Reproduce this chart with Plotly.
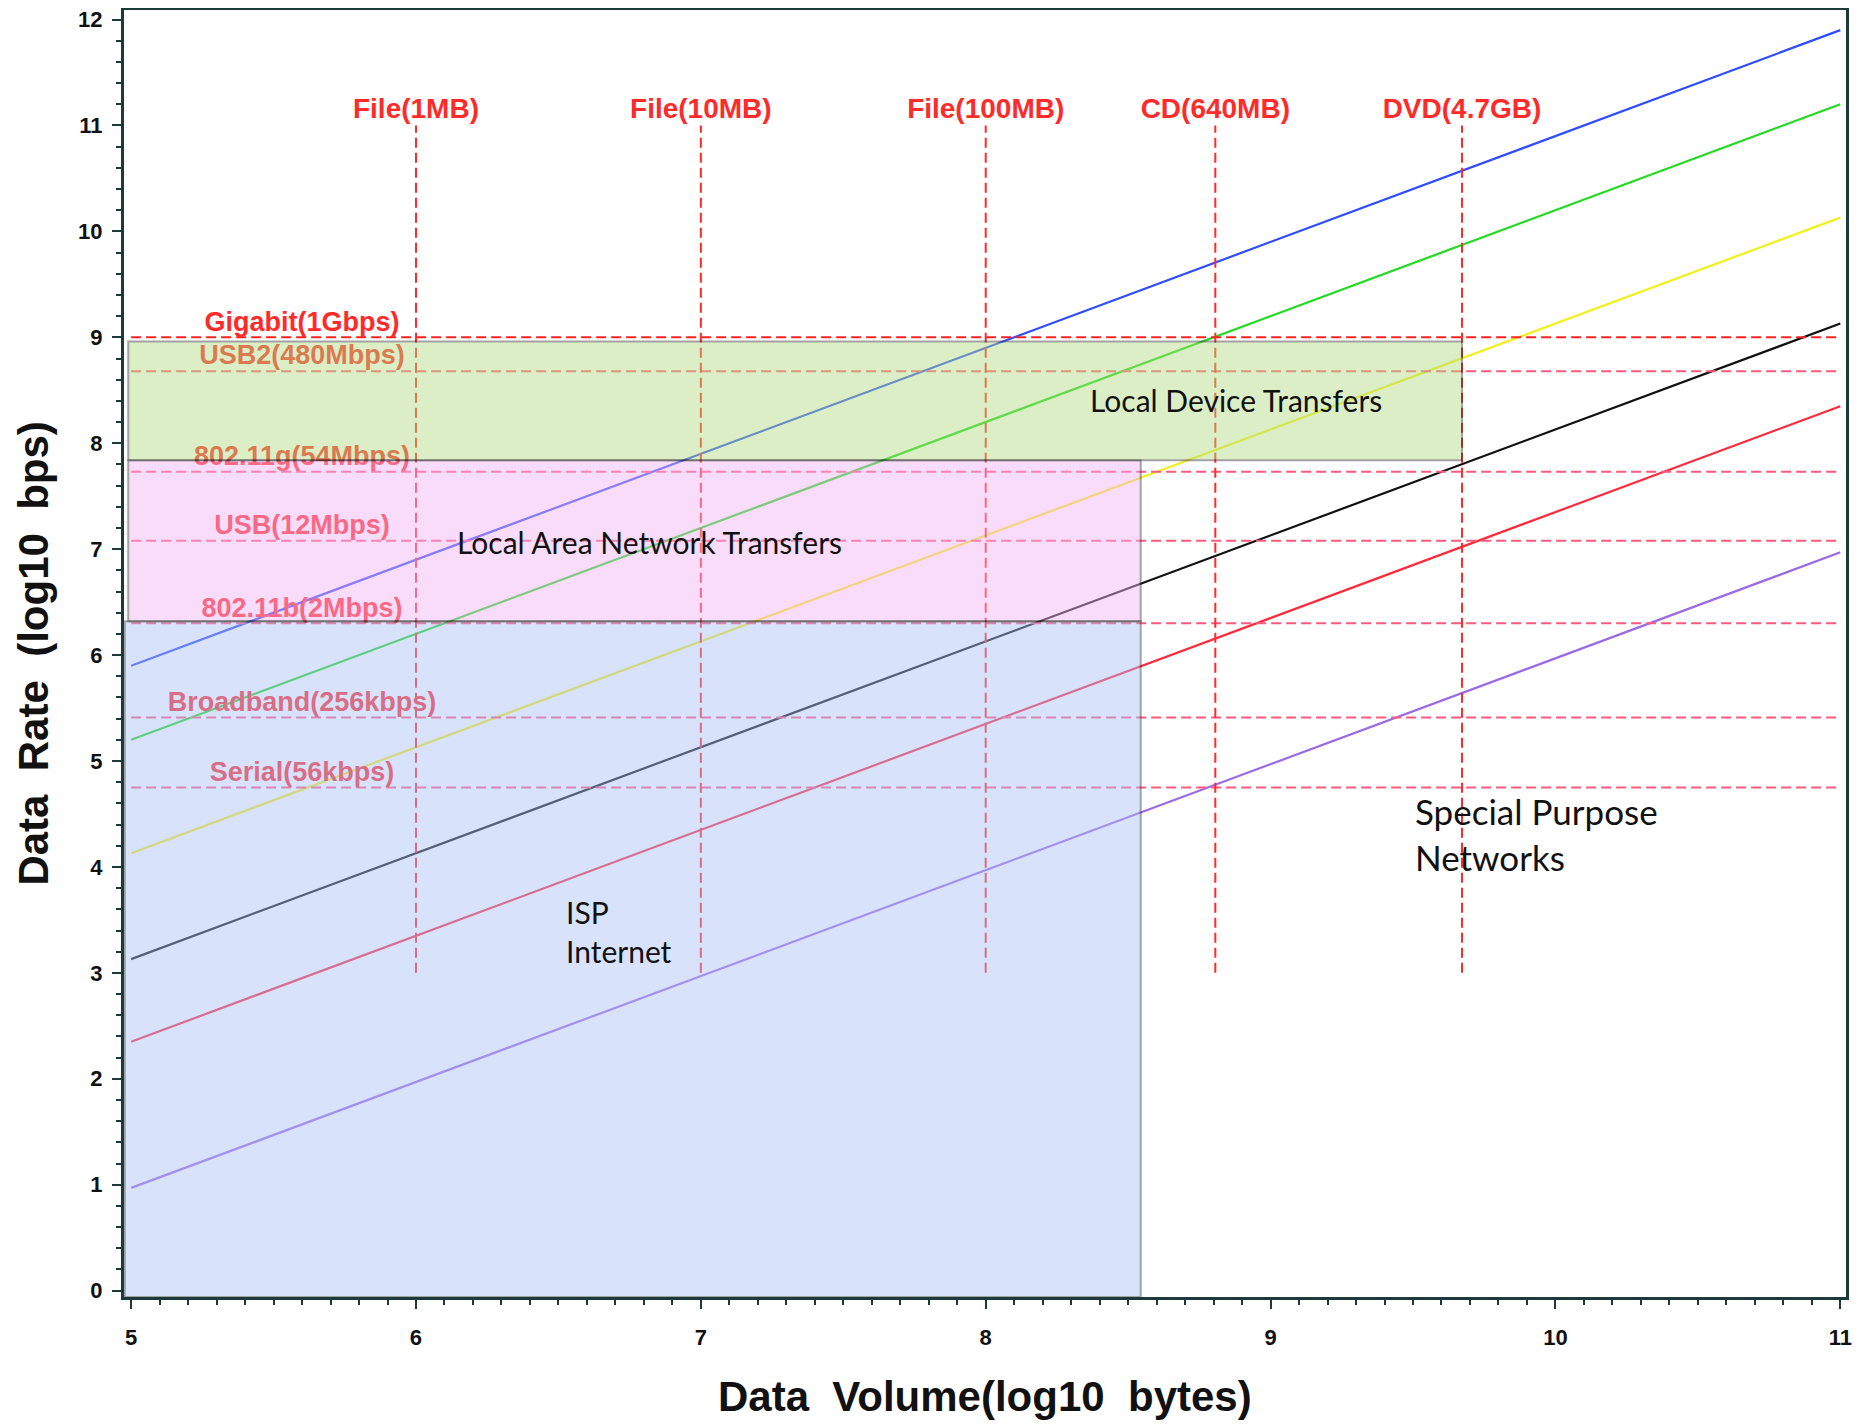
import plotly.graph_objects as go

# ---------------- data ----------------
# transfer-time lines (log10 bps at x = 5 and x = 11)
line_x = [5, 11]
line_names = ["1 s", "5 s", "1 min", "10 min", "1 hour", "1 day"]
line_y_start = [5.90, 5.20, 4.13, 3.13, 2.35, 0.97]
line_y_end = [11.90, 11.20, 10.13, 9.13, 8.35, 6.97]
line_colors = ["#2f4dff", "#1fdc1f", "#f2f01e", "#111111", "#ff2a3c", "#9a6ae6"]

# horizontal rate reference lines (log10 bps)
rate_labels = ["Gigabit(1Gbps)", "USB2(480Mbps)", "802.11g(54Mbps)", "USB(12Mbps)",
               "802.11b(2Mbps)", "Broadband(256kbps)", "Serial(56kbps)"]
rate_values = [9.00, 8.68, 7.73, 7.08, 6.30, 5.41, 4.75]
rate_colors = ["#ff2020", "#ff5a7e", "#ff5a7e", "#ff5a7e", "#ff5a7e", "#ff5a7e", "#ff5a7e"]
rate_label_x = 5.6
rate_span = [5, 11]

# vertical volume reference lines (log10 bytes)
vol_labels = ["File(1MB)", "File(10MB)", "File(100MB)", "CD(640MB)", "DVD(4.7GB)"]
vol_values = [6.0, 7.0, 8.0, 8.806, 9.672]
vol_span = [3, 11]

# shaded regions
region_names = ["ISP Internet", "Local Area Network Transfers", "Local Device Transfers"]
region_x0 = [4.978, 4.99, 4.99]
region_x1 = [8.544, 8.544, 9.672]
region_y0 = [-0.06, 6.32, 7.84]
region_y1 = [6.32, 7.84, 8.96]
region_fill = ["#abbff6", "#f2b3f2", "#b1db80"]

# region captions
caption_text = ["Local Device Transfers", "Local Area Network Transfers",
                "ISP<br>Internet", "Special Purpose<br>Networks"]
caption_x = [8.88, 6.82, 6.52, 9.50]
caption_y = [8.41, 7.07, 3.39, 4.31]
caption_size = [30, 30, 30, 35]
caption_anchor = ["center", "center", "left", "left"]

x_ticks = [5, 6, 7, 8, 9, 10, 11]
y_ticks = list(range(0, 13))

# ---------------- figure ----------------
fig = go.Figure()

for i, name in enumerate(line_names):
    fig.add_trace(go.Scatter(x=line_x, y=[line_y_start[i], line_y_end[i]], mode="lines",
                             name=name, line=dict(color=line_colors[i], width=2.2),
                             showlegend=False, hoverinfo="skip"))

for i, lab in enumerate(rate_labels):
    fig.add_trace(go.Scatter(x=rate_span, y=[rate_values[i], rate_values[i]], mode="lines",
                             line=dict(color=rate_colors[i], width=2, dash="10px,5px"),
                             showlegend=False, hoverinfo="skip"))

for i, lab in enumerate(vol_labels):
    fig.add_trace(go.Scatter(x=[vol_values[i], vol_values[i]], y=vol_span, mode="lines",
                             line=dict(color="#ff2a2a", width=2, dash="10px,5px"),
                             showlegend=False, hoverinfo="skip"))

# rate labels as text (drawn under the translucent regions so they pick up the tint)
fig.add_trace(go.Scatter(x=[rate_label_x] * len(rate_labels), y=rate_values, mode="text",
                         text=rate_labels, textposition="top center",
                         textfont=dict(family="Liberation Sans", size=27, color="#ff2a2a",
                                       weight=700),
                         showlegend=False, hoverinfo="skip"))

fig.add_trace(go.Scatter(x=vol_values, y=[vol_span[1]] * len(vol_values), mode="text",
                         text=vol_labels, textposition="top center",
                         textfont=dict(family="Liberation Sans", size=28, color="#ff2a2a",
                                       weight=700),
                         showlegend=False, hoverinfo="skip"))

for i in range(len(region_names)):
    fig.add_shape(type="rect", xref="x", yref="y",
                  x0=region_x0[i], x1=region_x1[i], y0=region_y0[i], y1=region_y1[i],
                  fillcolor=region_fill[i], opacity=0.45, layer="above",
                  line=dict(color="#333333", width=2))

for i, t in enumerate(caption_text):
    fig.add_annotation(x=caption_x[i], y=caption_y[i], xref="x", yref="y", text=t,
                       showarrow=False, xanchor=caption_anchor[i], yanchor="middle",
                       align="left",
                       font=dict(family="Lato", size=caption_size[i], color="#111111"))

# axis titles
fig.add_annotation(x=-0.0528, y=0.5, xref="paper", yref="paper",
                   text="Data&nbsp; Rate&nbsp; (log10&nbsp; bps)", textangle=-90,
                   showarrow=False, xanchor="center", yanchor="middle",
                   font=dict(family="Liberation Sans", size=42, color="#111111", weight=700))
fig.add_annotation(x=0.5, y=-0.077, xref="paper", yref="paper",
                   text="Data&nbsp; Volume(log10&nbsp; bytes)",
                   showarrow=False, xanchor="center", yanchor="middle",
                   font=dict(family="Liberation Sans", size=42, color="#111111", weight=700))

axis_color = "#1c3a3a"
fig.update_xaxes(range=[4.975, 11.02], tickvals=x_ticks, ticktext=[str(v) for v in x_ticks],
                 automargin=False, ticklabeloverflow="allow",
                 showgrid=False, zeroline=False, showline=True, linecolor=axis_color,
                 linewidth=3, mirror=True, ticks="outside", ticklen=9, tickwidth=2,
                 tickcolor=axis_color, ticklabelstandoff=10,
                 tickfont=dict(family="Liberation Sans", size=22, color="#111111", weight=700),
                 minor=dict(dtick=0.1, ticks="outside", ticklen=5, tickwidth=2,
                            tickcolor=axis_color, showgrid=False))
fig.update_yaxes(range=[-0.06, 12.09], tickvals=y_ticks, ticktext=[str(v) for v in y_ticks],
                 automargin=False, ticklabeloverflow="allow",
                 showgrid=False, zeroline=False, showline=True, linecolor=axis_color,
                 linewidth=3, mirror=True, ticks="outside", ticklen=9, tickwidth=2,
                 tickcolor=axis_color, ticklabelstandoff=5,
                 tickfont=dict(family="Liberation Sans", size=22, color="#111111", weight=700),
                 minor=dict(dtick=0.2, ticks="outside", ticklen=5, tickwidth=2,
                            tickcolor=axis_color, showgrid=False))

fig.update_layout(width=1866, height=1424, autosize=False,
                  margin=dict(l=116, r=28, t=2, b=135),
                  paper_bgcolor="white", plot_bgcolor="white", showlegend=False)

fig.write_html("out.html")
